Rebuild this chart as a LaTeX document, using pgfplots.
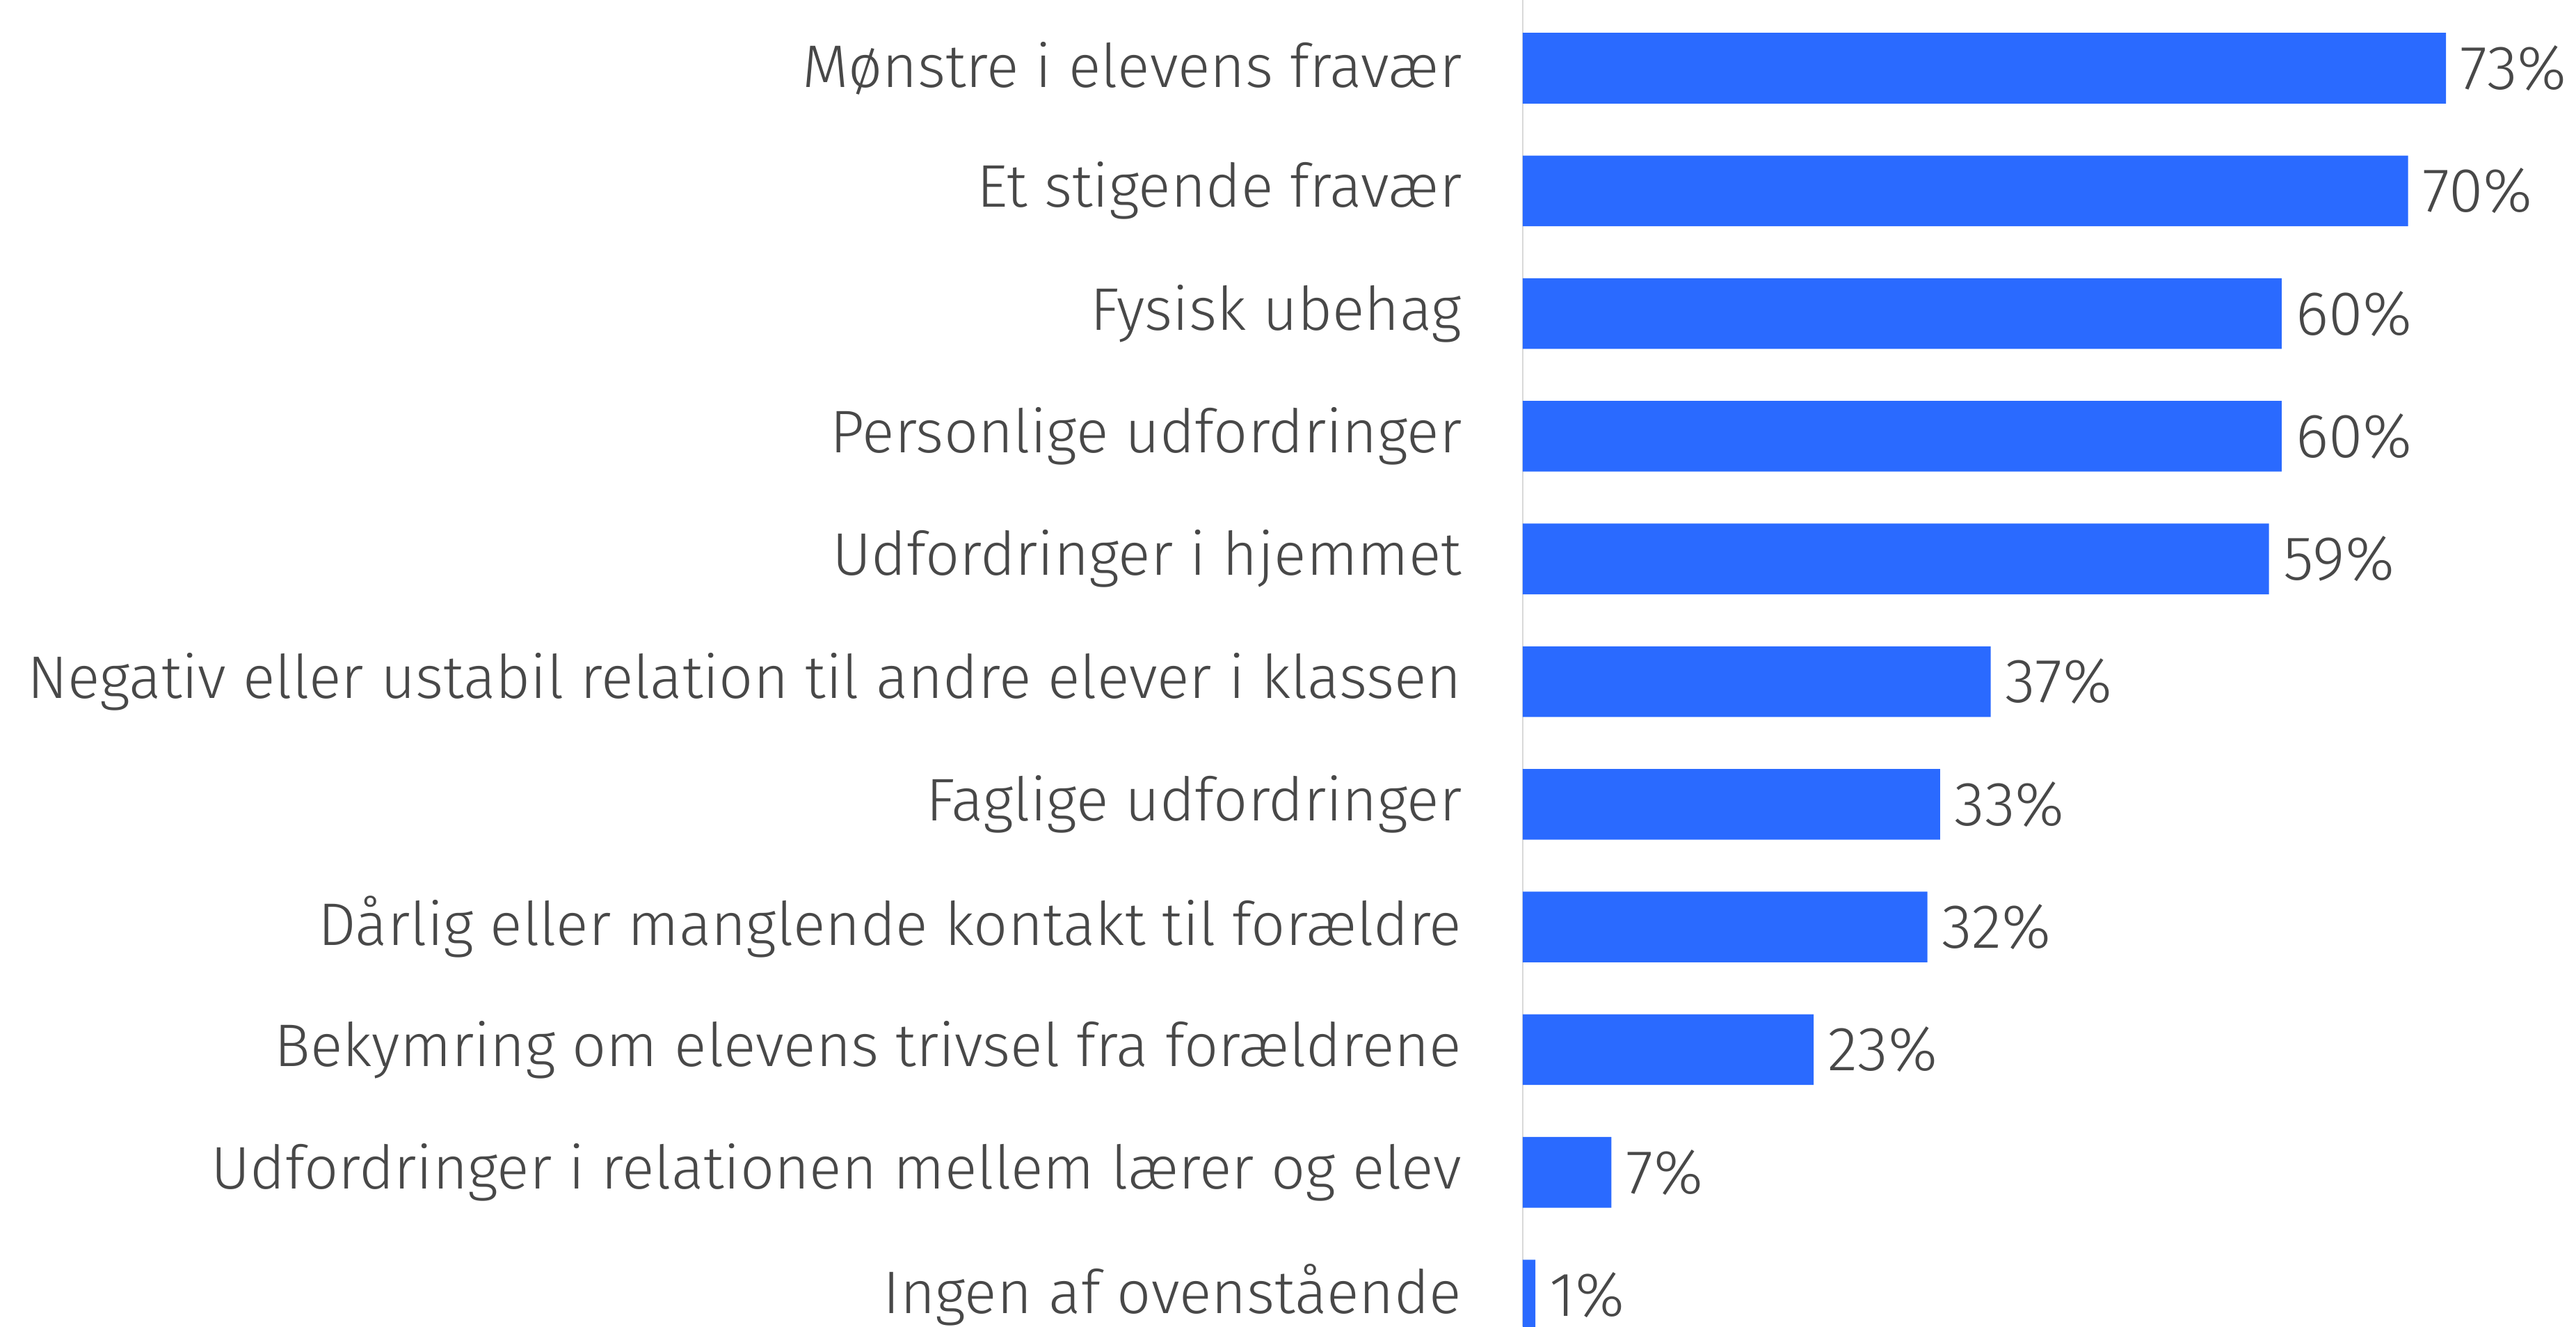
\documentclass[border=0pt]{standalone}
\usepackage{fontspec}
\setmainfont{Fira Sans Light}
\usepackage{pgfplots}
\pgfplotsset{compat=1.18}

\definecolor{barblue}{RGB}{42,106,255}
\definecolor{txtgray}{RGB}{72,72,72}
\definecolor{axgray}{RGB}{217,217,217}

\pgfplotstableread{
y x
10 73
9 70
8 60
7 60
6 59
5 37
4 33
3 32
2 23
1 7
0 1
}\shares

\begin{document}
\begin{tikzpicture}
\begin{axis}[
    scale only axis,
    width=378.5pt, height=476.5pt,
    xbar, bar width=0.576,
    xmin=0, xmax=83.28,
    ymin=-0.255, ymax=10.556,
    hide x axis,
    axis y line*=left,
    y axis line style={draw=axgray, line width=0.6pt},
    major tick length=0pt,
    ytick={0,...,10},
    yticklabels={Ingen af ovenstående,
        Udfordringer i relationen mellem lærer og elev,
        Bekymring om elevens trivsel fra forældrene,
        Dårlig eller manglende kontakt til forældre,
        Faglige udfordringer,
        Negativ eller ustabil relation til andre elever i klassen,
        Udfordringer i hjemmet,
        Personlige udfordringer,
        Fysisk ubehag,
        Et stigende fravær,
        {Mønstre i elevens fravær\ }},
    yticklabel style={font=\fontsize{21.6}{26}\selectfont, text=txtgray,
        inner sep=0pt, xshift=-21.75pt},
    /pgf/number format/assume math mode=true,
    nodes near coords={\pgfmathprintnumber{\pgfplotspointmeta}\%},
    point meta=x,
    every node near coord/.append style={font=\fontsize{22.4}{26}\selectfont,
        text=txtgray, anchor=west, inner sep=0pt, xshift=5pt},
    clip=true,
]
\addplot[fill=barblue, draw=none] table[x=x, y=y] {\shares};
\end{axis}
\pgfresetboundingbox
\path ([xshift=-547.25pt]current axis.south west) rectangle (current axis.north east);
\end{tikzpicture}
\end{document}
